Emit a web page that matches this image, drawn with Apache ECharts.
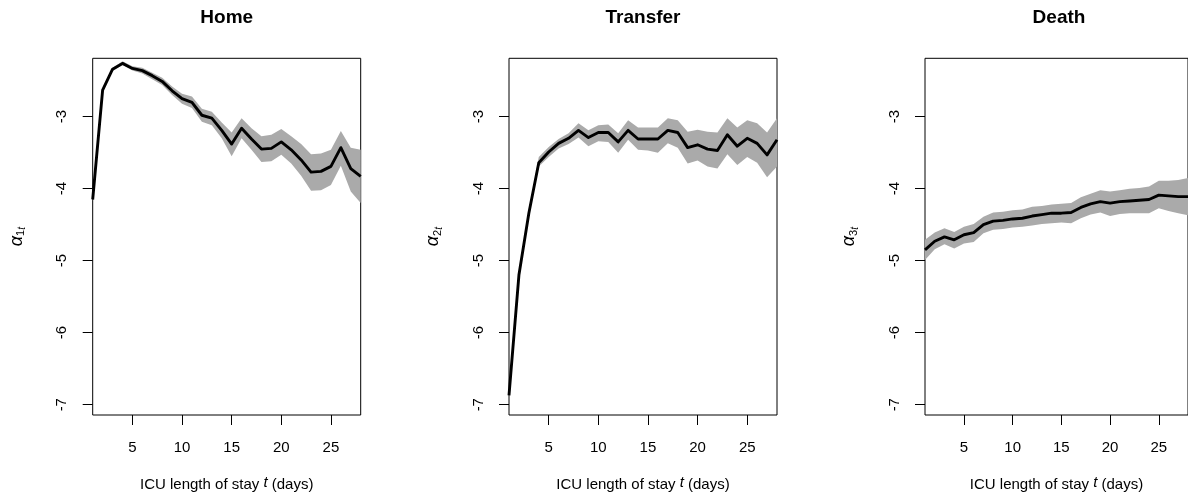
<!DOCTYPE html>
<html>
<head>
<meta charset="utf-8">
<title>ICU outcome-specific baseline hazards</title>
<script src="https://cdn.jsdelivr.net/npm/echarts@6/dist/echarts.min.js"></script>
<style>
  html, body { margin: 0; padding: 0; background: #fff; overflow: hidden; }
  #chart { width: 1188px; height: 498px; }
</style>
</head>
<body>
<div id="chart"></div>
<script>
// ICU length of stay (days)
const days = [1,2,3,4,5,6,7,8,9,10,11,12,13,14,15,16,17,18,19,20,21,22,23,24,25,26,27,28];
const xTicks = [5, 10, 15, 20, 25];
const yTicks = [-7, -6, -5, -4, -3];
const panelTitles = ['Home', 'Transfer', 'Death'];

// Home: posterior mean and pointwise band
const homeMean  = [-4.15,-2.63,-2.34,-2.26,-2.33,-2.36,-2.43,-2.51,-2.64,-2.75,-2.80,-2.98,-3.02,-3.19,-3.38,-3.16,-3.31,-3.45,-3.44,-3.35,-3.46,-3.60,-3.77,-3.76,-3.69,-3.43,-3.72,-3.83];
const homeUpper = [-4.12,-2.61,-2.32,-2.23,-2.30,-2.32,-2.39,-2.46,-2.58,-2.68,-2.72,-2.89,-2.93,-3.08,-3.22,-3.02,-3.16,-3.27,-3.25,-3.17,-3.27,-3.38,-3.52,-3.51,-3.46,-3.20,-3.43,-3.46];
const homeLower = [-4.18,-2.65,-2.37,-2.28,-2.36,-2.40,-2.48,-2.56,-2.70,-2.82,-2.88,-3.07,-3.12,-3.30,-3.55,-3.30,-3.46,-3.63,-3.62,-3.53,-3.65,-3.82,-4.03,-4.02,-3.95,-3.68,-4.04,-4.20];

// Transfer
const transferMean  = [-6.87,-5.20,-4.34,-3.64,-3.49,-3.37,-3.30,-3.19,-3.29,-3.22,-3.22,-3.35,-3.19,-3.31,-3.31,-3.31,-3.19,-3.22,-3.43,-3.39,-3.45,-3.47,-3.25,-3.41,-3.30,-3.37,-3.53,-3.32];
const transferUpper = [-6.85,-5.18,-4.31,-3.56,-3.42,-3.31,-3.23,-3.09,-3.19,-3.12,-3.11,-3.23,-3.05,-3.15,-3.15,-3.15,-3.02,-3.05,-3.21,-3.18,-3.21,-3.22,-3.02,-3.15,-3.05,-3.09,-3.22,-3.02];
const transferLower = [-6.89,-5.22,-4.37,-3.69,-3.56,-3.44,-3.38,-3.29,-3.41,-3.34,-3.35,-3.50,-3.32,-3.46,-3.47,-3.50,-3.37,-3.43,-3.65,-3.61,-3.69,-3.72,-3.52,-3.67,-3.56,-3.64,-3.84,-3.69];

// Death
const deathMean  = [-4.85,-4.73,-4.67,-4.71,-4.64,-4.61,-4.50,-4.45,-4.44,-4.42,-4.41,-4.38,-4.36,-4.34,-4.34,-4.33,-4.26,-4.21,-4.18,-4.20,-4.18,-4.17,-4.16,-4.15,-4.09,-4.10,-4.11,-4.11];
const deathUpper = [-4.71,-4.61,-4.55,-4.60,-4.53,-4.49,-4.39,-4.33,-4.32,-4.30,-4.29,-4.25,-4.24,-4.22,-4.21,-4.20,-4.12,-4.07,-4.02,-4.04,-4.02,-4.00,-3.99,-3.97,-3.89,-3.89,-3.88,-3.85];
const deathLower = [-4.99,-4.84,-4.77,-4.83,-4.76,-4.74,-4.62,-4.57,-4.56,-4.54,-4.53,-4.51,-4.49,-4.48,-4.47,-4.48,-4.41,-4.36,-4.33,-4.38,-4.35,-4.34,-4.34,-4.34,-4.27,-4.31,-4.34,-4.37];

const panels = [
  { title: panelTitles[0], sub: '1', mean: homeMean,     upper: homeUpper,     lower: homeLower },
  { title: panelTitles[1], sub: '2', mean: transferMean, upper: transferUpper, lower: transferLower },
  { title: panelTitles[2], sub: '3', mean: deathMean,    upper: deathUpper,    lower: deathLower }
];

const FONT = '"Liberation Sans", Arial, Helvetica, sans-serif';
const panelLeft = [92.7, 509, 925];
const panelTop = 58.3;
const panelW = 268;
const panelH = 356.7;

const chart = echarts.init(document.getElementById('chart'), null, { renderer: 'canvas' });

const grids = [], xAxes = [], yAxes = [], series = [], graphics = [];

panels.forEach((p, i) => {
  grids.push({
    left: panelLeft[i], top: panelTop, width: panelW, height: panelH,
    show: true, borderColor: '#000', borderWidth: 1, backgroundColor: 'transparent'
  });
  xAxes.push({
    gridIndex: i, type: 'value', min: 1, max: 28,
    name: 'ICU length of stay {it|t} (days)',
    nameLocation: 'middle', nameGap: 60,
    nameTextStyle: {
      color: '#000', fontFamily: FONT, fontSize: 15,
      rich: { it: { fontFamily: FONT, fontSize: 15, fontStyle: 'italic', verticalAlign: 'top', lineHeight: 20, padding: [0, 0, 3, 0] } }
    },
    splitLine: { show: false },
    axisLine: { show: false },
    axisTick: { show: true, inside: false, length: 10, customValues: xTicks, lineStyle: { color: '#000', width: 1 } },
    axisLabel: { show: true, customValues: xTicks, margin: 25, color: '#000', fontFamily: FONT, fontSize: 15 }
  });
  yAxes.push({
    gridIndex: i, type: 'value', min: -7.143, max: -2.189,
    name: '{a|α}{s|' + p.sub + '}{t|t}',
    nameLocation: 'middle', nameGap: 64,
    nameTextStyle: {
      color: '#000', fontFamily: FONT,
      rich: {
        a: { fontFamily: FONT, fontSize: 18, fontStyle: 'italic', lineHeight: 24, verticalAlign: 'middle', color: '#000' },
        s: { fontFamily: FONT, fontSize: 11, lineHeight: 24, verticalAlign: 'bottom', padding: [0, 0, 2, 0], color: '#000' },
        t: { fontFamily: FONT, fontSize: 10, fontStyle: 'italic', lineHeight: 24, verticalAlign: 'bottom', padding: [0, 0, 1, 0], color: '#000' }
      }
    },
    splitLine: { show: false },
    axisLine: { show: false },
    axisTick: { show: true, inside: false, length: 10, customValues: yTicks, lineStyle: { color: '#000', width: 1 } },
    axisLabel: { show: true, customValues: yTicks, rotate: 90, margin: 23, color: '#000', fontFamily: FONT, fontSize: 15 }
  });

  // credible band drawn as one polygon through the axis scales
  series.push({
    type: 'custom', xAxisIndex: i, yAxisIndex: i, silent: true, z: 1,
    data: [[days[0], p.mean[0]]],
    encode: { x: 0, y: 1 },
    renderItem: (params, api) => {
      const pts = [];
      for (let k = 0; k < days.length; k++) pts.push(api.coord([days[k], p.upper[k]]));
      for (let k = days.length - 1; k >= 0; k--) pts.push(api.coord([days[k], p.lower[k]]));
      return { type: 'polygon', shape: { points: pts }, style: { fill: '#aaaaaa', stroke: null } };
    }
  });
  series.push({
    type: 'line', xAxisIndex: i, yAxisIndex: i, z: 3,
    data: days.map((d, k) => [d, p.mean[k]]),
    showSymbol: false, symbol: 'none', animation: false,
    lineStyle: { color: '#000', width: 2.9, join: 'round' }
  });

  graphics.push({
    type: 'text', x: panelLeft[i] + panelW / 2, y: 18,
    style: { text: p.title, fill: '#000', font: 'bold 19px ' + FONT, textAlign: 'center', textVerticalAlign: 'middle' }
  });
});

chart.setOption({
  animation: false,
  backgroundColor: '#fff',
  grid: grids,
  xAxis: xAxes,
  yAxis: yAxes,
  series: series,
  graphic: graphics
});
</script>
</body>
</html>
